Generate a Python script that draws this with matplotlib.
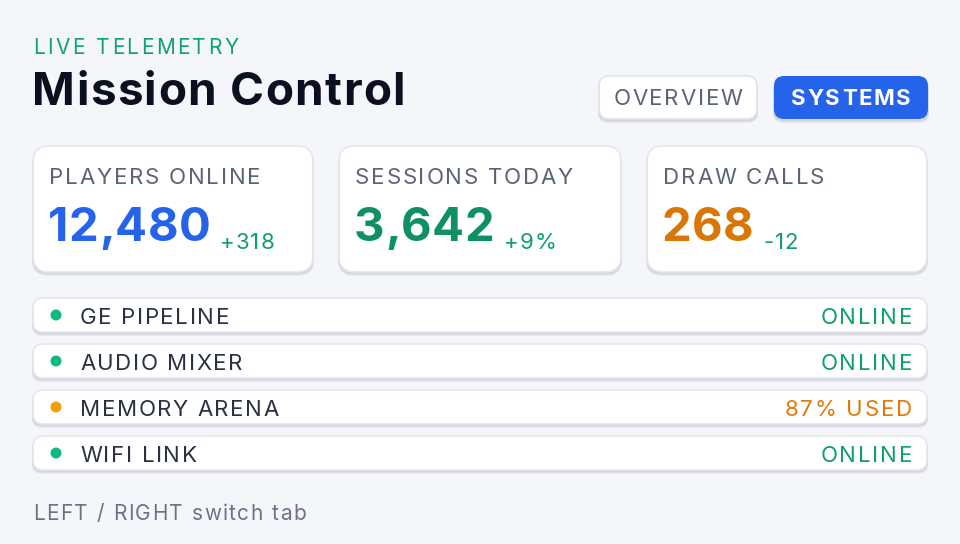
import matplotlib
matplotlib.use("Agg")
import matplotlib.pyplot as plt
from matplotlib.patches import FancyBboxPatch, Circle

plt.rcParams['font.family'] = ['Inter', 'DejaVu Sans']

eyebrow = "LIVE TELEMETRY"
title = "Mission Control"
tabs = ["OVERVIEW", "SYSTEMS"]
active_tab = "SYSTEMS"
card_labels = ["PLAYERS ONLINE", "SESSIONS TODAY", "DRAW CALLS"]
card_values = ["12,480", "3,642", "268"]
card_deltas = ["+318", "+9%", "-12"]
card_colors = ["#2563eb", "#0f8f66", "#d97706"]
row_names = ["GE PIPELINE", "AUDIO MIXER", "MEMORY ARENA", "WIFI LINK"]
row_status = ["ONLINE", "ONLINE", "87% USED", "ONLINE"]
row_colors = ["#10b981", "#10b981", "#f59e0b", "#10b981"]
status_colors = ["#0f9f6e", "#0f9f6e", "#e07b0a", "#0f9f6e"]
footer = "LEFT / RIGHT switch tab"

fig = plt.figure(figsize=(9.6, 5.44), dpi=100)
fig.patch.set_facecolor("#f4f6fa")
ax = fig.add_axes([0, 0, 1, 1])
ax.set_xlim(0, 960); ax.set_ylim(544, 0); ax.axis("off")
fig.canvas.draw()
R = fig.canvas.get_renderer()

def width(s, **kw):
    if not s:
        return 0.0
    t = ax.text(0, 0, s.replace(" ", "\u00a0"), **kw)
    w = t.get_window_extent(R).width
    t.remove()
    return w

def stext(x, y, s, sp, ha="left", **kw):
    total = width(s, **kw) + sp * (len(s) - 1)
    if ha == "right":
        x -= total
    elif ha == "center":
        x -= total / 2
    for i, ch in enumerate(s):
        if ch == " ":
            continue
        ax.text(x + width(s[:i], **kw) + sp * i, y, ch, ha="left", va="center", zorder=4, **kw)
    return x + total

def box(x0, y0, x1, y1, r, fc, ec="none", shadow=True, lw=1.0):
    if shadow:
        for i, a in enumerate([0.05, 0.05, 0.06]):
            ax.add_patch(FancyBboxPatch((x0 - 1, y0 + 2 + i), x1 - x0 + 2, y1 - y0,
                         boxstyle=f"round,pad=0,rounding_size={r}", fc="#1e293b", ec="none", alpha=a, zorder=1))
    ax.add_patch(FancyBboxPatch((x0, y0), x1 - x0, y1 - y0,
                 boxstyle=f"round,pad=0,rounding_size={r}", fc=fc, ec=ec, lw=lw, zorder=2))

stext(33, 48, eyebrow, 2.5, color="#10a36f", fontsize=15)
stext(32, 93, title, 1.4, color="#0b1020", fontsize=33, fontweight="bold")

tab_boxes = [(599, 757), (774, 928)]
for (x0, x1), t in zip(tab_boxes, tabs):
    act = t == active_tab
    box(x0, 76, x1, 119, 10, "#2563eb" if act else "white", ec="none" if act else "#dfe3ea", lw=1.2)
    stext((x0 + x1) / 2, 99, t, 1.8, ha="center", color="white" if act else "#5b6475", fontsize=16,
          fontweight="bold" if act else "normal")

card_x = [(33, 313), (339, 621), (647, 927)]
for (x0, x1), lab, val, d, c in zip(card_x, card_labels, card_values, card_deltas, card_colors):
    box(x0, 146, x1, 272, 16, "white", ec="#e3e7ee", lw=1.2)
    stext(x0 + 16, 178, lab, 1.8, color="#5b6475", fontsize=16)
    end = stext(x0 + 15, 229, val, 0.4, color=c, fontsize=34, fontweight="bold")
    stext(end + 10, 243, d, 0.8, color="#0f9f6e", fontsize=16)

row_y = [298, 344, 390, 436]
for y, n, s, dc, sc in zip(row_y, row_names, row_status, row_colors, status_colors):
    box(33, y, 927, y + 34, 10, "white", ec="#e3e7ee", lw=1.2)
    ax.add_patch(Circle((56, y + 17), 5.5, fc=dc, ec="none", zorder=3))
    stext(80, y + 19.5, n, 1.6, color="#2a3140", fontsize=16)
    stext(912, y + 19.5, s, 1.8, ha="right", color=sc, fontsize=16)

stext(33, 514, footer, 1.5, color="#6b7384", fontsize=15)

fig.savefig("out.png", dpi=100, facecolor=fig.get_facecolor())
